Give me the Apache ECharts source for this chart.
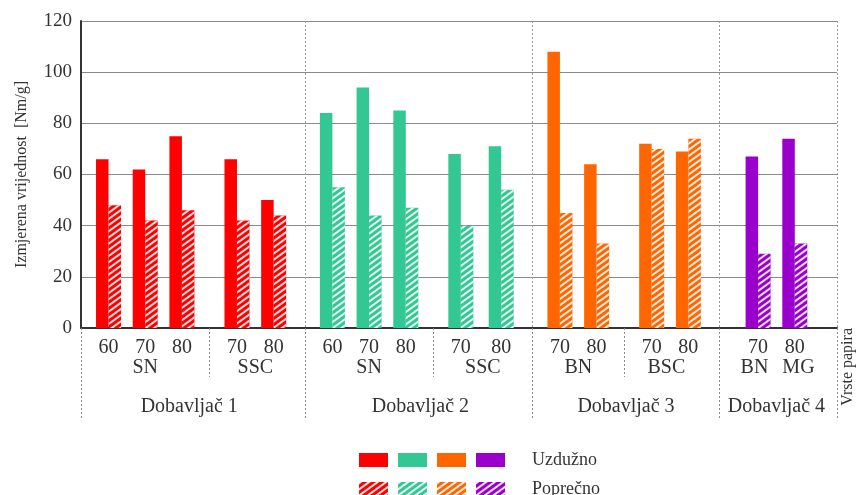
<!DOCTYPE html>
<html><head><meta charset="utf-8">
<script src="https://cdn.jsdelivr.net/npm/echarts@6/dist/echarts.min.js"></script>
<style>html,body{margin:0;padding:0;background:#fff}#c{width:861px;height:495px}</style>
</head><body><div id="c"></div>
<script>
// ---- data ----
const suppliers = ['Dobavljač 1', 'Dobavljač 2', 'Dobavljač 3', 'Dobavljač 4'];
const grammage = ['60','70','80','70','80','60','70','80','70','80','70','80','70','80','70','80'];
const paperType = ['SN','SN','SN','SSC','SSC','SN','SN','SN','SSC','SSC','BN','BN','BSC','BSC','BN','MG'];
const supplierOf = [0,0,0,0,0,1,1,1,1,1,2,2,2,2,3,3];
const uzduzno = [66,62,75,66,50,84,94,85,68,71,108,64,72,69,67,74];
const poprecno = [48,42,46,42,44,55,44,47,40,54,45,33,70,74,29,33];
const yTicks = [0, 20, 40, 60, 80, 100, 120];
const seriesNames = ['Uzdužno', 'Poprečno'];
const typeGroupLabels = ['SN','SSC','SN','SSC','BN','BSC','BN','MG'];
const yAxisName = 'Izmjerena vrijednost  [Nm/g]';
const xAxisName = 'Vrste papira';

// ---- layout (fine slots along the category axis) ----
const SLOTS = 206;
const barSlot = [7,17,27,42,52,68,78,88,103,114,130,140,155,165,184,194];
const typeGroupSlot = [17,47,78,109,135,159,183,195];
const supplierSlot = [29,92,148,189];
const mainSepSlot = [0,61,123,174];
const subSepSlot = [35,96,148];
const colors = ['#ff0000', '#33c794', '#ff6600', '#9900cc'];
const FONT = 'Liberation Serif';
const TXT = '#333';

const slots = Array.from({length: SLOTS}, (_, i) => 's' + i);
const gramBySlot = {}; barSlot.forEach((s, i) => gramBySlot[s] = grammage[i]);
const typeBySlot = {}; typeGroupSlot.forEach((s, i) => typeBySlot[s] = typeGroupLabels[i]);
const supBySlot = {}; supplierSlot.forEach((s, i) => supBySlot[s] = suppliers[i]);

const hatch = {
  symbol: 'rect', symbolSize: 1,
  dashArrayX: [1, 0], dashArrayY: [2, 2.6],
  rotation: -Math.PI / 5,
  color: 'rgba(255,255,255,0.88)'
};

function seriesFor(kind, s) {
  const vals = kind === 0 ? uzduzno : poprecno;
  const data = new Array(SLOTS).fill('-');
  barSlot.forEach((slot, i) => { if (supplierOf[i] === s) data[slot] = vals[i]; });
  const style = {color: colors[s]};
  if (kind === 1) style.decal = hatch;
  return {
    name: seriesNames[kind] + ' – ' + suppliers[s],
    type: 'bar', stack: kind === 0 ? 'u' : 'p',
    xAxisIndex: 0, barWidth: 12.5, barGap: '0%',
    itemStyle: style, emphasis: {disabled: true},
    data: data
  };
}
const series = [];
for (let k = 0; k < 2; k++) for (let s = 0; s < 4; s++) series.push(seriesFor(k, s));

const sepLine = {color: '#8c8c8c', width: 1, type: [2, 2]};
const labelBase = {fontSize: 20, fontFamily: FONT, color: TXT};

function legendFor(kind, top) {
  const names = suppliers.map(sp => seriesNames[kind] + ' – ' + sp);
  return {
    left: 359, top: top, padding: 0, orient: 'horizontal', icon: 'rect',
    itemWidth: 29, itemHeight: 14, itemGap: 10, selectedMode: false,
    data: names.map((n, i) => i === 3 ? {name: n, textStyle: {padding: [0, 0, 0, 22]}} : n),
    formatter: name => name === names[3] ? seriesNames[kind] : '',
    textStyle: {fontSize: 18, fontFamily: FONT, color: TXT}
  };
}

const chart = echarts.init(document.getElementById('c'));
chart.setOption({
  animation: false,
  grid: {left: 81, right: 24, top: 21, bottom: 167, containLabel: false},
  legend: [legendFor(0, 451), legendFor(1, 480)],
  xAxis: [
    {
      type: 'category', data: slots, position: 'bottom',
      name: xAxisName, nameLocation: 'end', nameRotate: 90, nameGap: 11,
      nameTextStyle: {fontSize: 16, fontFamily: FONT, color: TXT, align: 'right', verticalAlign: 'middle'},
      axisLine: {show: true, onZero: false, lineStyle: {color: '#333', width: 2}},
      axisTick: {show: true, interval: i => mainSepSlot.includes(i), length: 90, lineStyle: sepLine},
      axisLabel: Object.assign({interval: i => (i in gramBySlot), formatter: (v, i) => gramBySlot[i] || '', margin: 10}, labelBase),
      splitLine: {show: true, interval: i => mainSepSlot.includes(i) && i > 0, lineStyle: {color: '#999', width: 1, type: [2, 2]}}
    },
    {
      type: 'category', data: slots, position: 'bottom',
      axisLine: {show: false, onZero: false},
      axisTick: {show: true, interval: i => subSepSlot.includes(i), length: 49, lineStyle: sepLine},
      axisLabel: Object.assign({interval: i => (i in typeBySlot), formatter: (v, i) => typeBySlot[i] || '', margin: 30}, labelBase),
      splitLine: {show: false}
    },
    {
      type: 'category', data: slots, position: 'bottom',
      axisLine: {show: false, onZero: false},
      axisTick: {show: false},
      axisLabel: Object.assign({interval: i => (i in supBySlot), formatter: (v, i) => supBySlot[i] || '', margin: 69}, labelBase),
      splitLine: {show: false}
    }
  ],
  yAxis: {
    type: 'value', min: yTicks[0], max: yTicks[yTicks.length - 1], interval: yTicks[1] - yTicks[0],
    name: yAxisName, nameLocation: 'middle', nameGap: 51,
    nameTextStyle: {fontSize: 16, fontFamily: FONT, color: TXT},
    axisLine: {show: true, lineStyle: {color: '#333', width: 2}},
    axisTick: {show: false},
    axisLabel: {fontSize: 19, fontFamily: FONT, color: TXT, margin: 9},
    splitLine: {show: true, lineStyle: {color: '#8a8a8a', width: 1}}
  },
  series: series
});
</script></body></html>
